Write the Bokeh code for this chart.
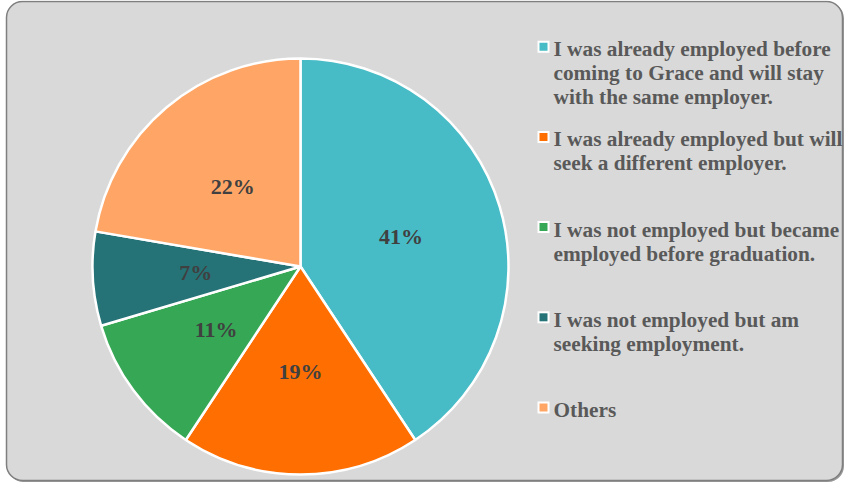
import numpy as np
from bokeh.plotting import figure
from bokeh.models import Range1d, ColumnDataSource
from bokeh.core.properties import value
from bokeh.embed import file_html
from bokeh.resources import INLINE

# ---- data ----
categories = [
    "I was already employed before\ncoming to Grace and will stay\nwith the same employer.",
    "I was already employed but will\nseek a different employer.",
    "I was not employed but became\nemployed before graduation.",
    "I was not employed but am\nseeking employment.",
    "Others",
]
shares = [40.7, 18.6, 11.1, 7.3, 22.3]
pct_labels = ["41%", "19%", "11%", "7%", "22%"]
colors = ["#47BCC6", "#FF6E00", "#36A855", "#257377", "#FFA666"]

W, H = 844, 482
p = figure(width=W, height=H, x_range=Range1d(0, W), y_range=Range1d(0, H),
           output_backend="svg", toolbar_location=None, min_border=0)
p.axis.visible = False
p.grid.visible = False
p.outline_line_color = None
p.background_fill_color = "white"
p.border_fill_color = "white"

def Y(ref_y):
    return H - ref_y

# chart frame (rounded) with slight shadow
p.quad(left=[7], right=[843.5], top=[Y(2)], bottom=[Y(481.5)], fill_color="#9A9A9A",
       line_color=None, border_radius=16)
p.quad(left=[6], right=[842], top=[Y(1)], bottom=[Y(480)], fill_color="#D9D9D9",
       line_color="#7F7F7F", line_width=1.5, border_radius=16)

# ---- pie ----
cx, cy, R = 300, Y(266), 208
vals = np.array(shares, dtype=float)
cum = np.cumsum(vals) / vals.sum()
prev = np.concatenate([[0.0], cum[:-1]])
a0 = prev * 2 * np.pi
a1 = cum * 2 * np.pi
src = ColumnDataSource(dict(
    start=np.pi / 2 - a1, end=np.pi / 2 - a0, color=colors,
))
p.wedge(x=cx, y=cy, radius=R, start_angle="start", end_angle="end",
        fill_color="color", line_color="white", line_width=2.5, source=src)

mid = (a0 + a1) / 2
lr = 105
lab = ColumnDataSource(dict(x=cx + lr * np.sin(mid), y=cy + lr * np.cos(mid), t=pct_labels))
p.text(x="x", y="y", text="t", source=lab, text_align="center", text_baseline="middle",
       text_font=value("Liberation Serif"), text_font_style="bold",
       text_font_size="22px", text_color="#404040")

# ---- legend ----
lx, ly, lt = [], [], []
mx, my, mc = [], [], []
for i, (cat, col) in enumerate(zip(categories, colors)):
    base = 52.7 + 90.2 * i
    mx.append(543)
    my.append(Y(base - 6.5))
    mc.append(col)
    for j, line in enumerate(cat.split("\n")):
        lx.append(553)
        ly.append(Y(base - 4 + 24 * j))
        lt.append(line)

p.scatter(x=mx, y=my, marker="square", size=12, fill_color="white", line_color=None)
p.scatter(x=mx, y=my, marker="square", size=8, fill_color=mc, line_color=None)
p.text(x=lx, y=ly, text=lt, text_align="left", text_baseline="alphabetic",
       text_font=value("Liberation Serif"), text_font_style="bold",
       text_font_size="21.3px", text_color="#595959")

open("out.html", "w").write(file_html(p, INLINE))
